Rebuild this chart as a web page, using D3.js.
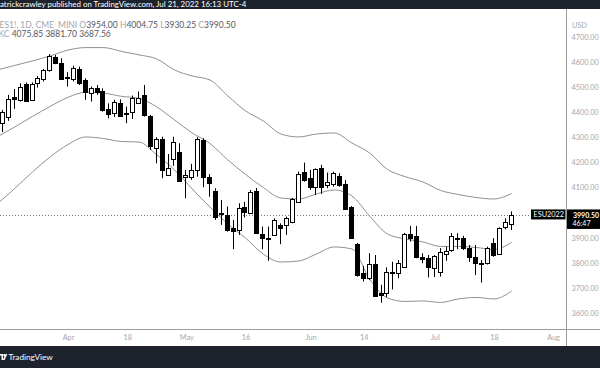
<!DOCTYPE html>
<html><head><meta charset="utf-8">
<script src="https://cdn.jsdelivr.net/npm/d3@7"></script>
<style>
html,body{margin:0;padding:0;background:#fff;}
svg{display:block;font-family:Lato,"Open Sans",sans-serif;}
</style></head><body>
<svg id="c" width="600" height="368"></svg>
<script>
// ---- data ----
const preDates = ["2022-03-16"];
const dates = [
 "2022-03-17","2022-03-18","2022-03-21","2022-03-22","2022-03-23","2022-03-24","2022-03-25","2022-03-28","2022-03-29","2022-03-30","2022-03-31",
 "2022-04-01","2022-04-04","2022-04-05","2022-04-06","2022-04-07","2022-04-08","2022-04-11","2022-04-12","2022-04-13","2022-04-14",
 "2022-04-18","2022-04-19","2022-04-20","2022-04-21","2022-04-22","2022-04-25","2022-04-26","2022-04-27","2022-04-28","2022-04-29",
 "2022-05-02","2022-05-03","2022-05-04","2022-05-05","2022-05-06","2022-05-09","2022-05-10","2022-05-11","2022-05-12","2022-05-13",
 "2022-05-16","2022-05-17","2022-05-18","2022-05-19","2022-05-20","2022-05-23","2022-05-24","2022-05-25","2022-05-26","2022-05-27","2022-05-31",
 "2022-06-01","2022-06-02","2022-06-03","2022-06-06","2022-06-07","2022-06-08","2022-06-09","2022-06-10","2022-06-13","2022-06-14",
 "2022-06-15","2022-06-16","2022-06-17","2022-06-21","2022-06-22","2022-06-23","2022-06-24","2022-06-27","2022-06-28","2022-06-29","2022-06-30",
 "2022-07-01","2022-07-05","2022-07-06","2022-07-07","2022-07-08","2022-07-11","2022-07-12","2022-07-13","2022-07-14","2022-07-15",
 "2022-07-18","2022-07-19","2022-07-20","2022-07-21"];
const futureDates = ["2022-07-22","2022-07-25","2022-07-26","2022-07-27","2022-07-28","2022-07-29","2022-08-01","2022-08-02","2022-08-03"];

const open = [4356,4382,4462,4449,4512,4449,4515,4532,4568,4621,4595,
 4540,4532,4572,4528,4475,4495,4486,4411,4396,4438,
 4396,4400,4438,4469,4385,4256,4293,4150,4214,4243,
 4143,4143,4170,4289,4143,4084,3997,3990,3940,3931,
 4024,4000,4085,3914,3900,3911,3951,3951,3964,4043,4163,
 4137,4103,4176,4110,4114,4147,4114,4024,3875,3761,
 3738,3795,3678,3678,3765,3758,3782,3915,3908,3824,3820,
 3779,3765,3835,3851,3898,3898,3860,3824,3798,3798,
 3878,3835,3944,3954];
const high = [4409,4469,4492,4515,4518,4518,4544,4572,4631,4628,4615,
 4559,4585,4581,4535,4502,4508,4495,4435,4449,4451,
 4422,4466,4482,4508,4389,4300,4302,4233,4302,4276,
 4170,4194,4300,4296,4153,4097,4050,4024,3971,4037,
 4043,4090,4098,3944,3944,3977,3957,3984,4058,4163,4199,
 4170,4176,4190,4159,4163,4157,4130,4026,3879,3787,
 3838,3831,3712,3782,3804,3811,3919,3947,3947,3838,3831,
 3831,3858,3864,3918,3918,3907,3871,3871,3811,3864,
 3898,3941,3977,4004.75];
const low = [4320,4365,4413,4442,4442,4445,4498,4522,4561,4591,4528,
 4502,4522,4508,4449,4442,4469,4402,4375,4381,4382,
 4356,4373,4435,4382,4249,4196,4137,4147,4186,4123,
 4057,4130,4143,4101,4063,3971,3951,3924,3854,3911,
 3980,3997,3918,3854,3808,3907,3874,3911,3958,4041,4123,
 4090,4070,4074,4097,4103,4103,4010,3895,3745,3725,
 3731,3665,3641,3663,3694,3738,3779,3884,3818,3798,3742,
 3743,3745,3808,3844,3854,3851,3804,3751,3721,3793,
 3824,3831,3933,3930.25];
const close = [4402,4451,4453,4502,4445,4512,4535,4568,4624,4595,4532,
 4536,4577,4515,4479,4495,4482,4409,4391,4439,4386,
 4392,4458,4455,4389,4267,4292,4170,4179,4282,4126,
 4150,4170,4293,4143,4117,3984,3994,3931,3927,4017,
 4001,4083,3920,3898,3896,3971,3940,3977,4053,4154,4130,
 4101,4173,4103,4121,4157,4110,4013,3898,3751,3738,
 3794,3668,3672,3765,3758,3798,3915,3898,3822,3815,3784,
 3827,3844,3848,3907,3894,3858,3822,3800,3794,3860,
 3831,3937,3961,3990.5];

// Keltner channel values
const bandDates = ["2022-03-16","2022-03-21","2022-03-24","2022-03-29","2022-04-01","2022-04-06","2022-04-11","2022-04-14","2022-04-20","2022-04-25",
 "2022-04-28","2022-05-03","2022-05-06","2022-05-11","2022-05-16","2022-05-19","2022-05-24","2022-05-27","2022-06-02","2022-06-07",
 "2022-06-10","2022-06-15","2022-06-21","2022-06-24","2022-06-29","2022-07-05","2022-07-08","2022-07-13","2022-07-18","2022-07-21"];
const kcUpper = [4568,4586,4604,4624,4647,4657,4657,4642,4628,4612,
 4568,4544,4528,4465,4405,4365,4313,4301,4313,4317,
 4277,4237,4172,4143,4122,4088,4072,4060,4054,4075.85];
const kcMiddle = [4301,4341,4383,4423,4459,4479,4476,4463,4455,4421,
 4369,4317,4275,4210,4152,4100,4058,4054,4074,4090,
 4066,3986,3915,3895,3883,3865,3865,3861,3853,3881.70];
const kcLower = [4034,4096,4162,4222,4271,4301,4295,4283,4281,4230,
 4170,4094,4022,3955,3899,3835,3803,3807,3835,3863,
 3855,3735,3660,3646,3648,3642,3656,3662,3656,3687.56];

const priceTicks = [3600,3700,3800,3900,4100,4200,4300,4400,4500,4600,4700];
const timeTickDates = ["2022-04-01","2022-04-18","2022-05-02","2022-05-16","2022-06-01","2022-06-14","2022-07-01","2022-07-18","2022-08-01"];
const timeTickLabels = ["Apr","18","May","16","Jun","14","Jul","18","Aug"];

// ---- layout ----
const W = 600, H = 368;
const plotR = 566, plotT = 9, plotB = 329.5;
const allDates = preDates.concat(dates, futureDates);
const pos = d => allDates.indexOf(d);

const x = d3.scaleLinear().domain([0.504, 96.19]).range([0, plotR]);
const y = d3.scaleLinear().domain([3600, 4700]).range([313, 36.8]);

const svg = d3.select("#c");
svg.append("rect").attr("width", W).attr("height", H).attr("fill", "#fff");

svg.append("defs").append("clipPath").attr("id", "plotclip")
  .append("rect").attr("x", 0).attr("y", plotT).attr("width", plotR).attr("height", plotB - plotT);

const plot = svg.append("g").attr("clip-path", "url(#plotclip)");

// last price dotted line
const last = close[close.length - 1];
plot.append("line")
  .attr("x1", 0).attr("x2", plotR)
  .attr("y1", Math.round(y(last)) + 0.5).attr("y2", Math.round(y(last)) + 0.5)
  .attr("stroke", "#7a7a7a").attr("stroke-width", 1).attr("stroke-dasharray", "1,2");

// bands
const bandData = bandDates.map((d, k) => ({p: pos(d), u: kcUpper[k], m: kcMiddle[k], l: kcLower[k]}));
["u", "m", "l"].forEach(key => {
  plot.append("path")
    .datum(bandData)
    .attr("fill", "none").attr("stroke", "#8f8f8f").attr("stroke-width", 1)
    .attr("d", d3.line().x(d => x(d.p)).y(d => y(d[key])).curve(d3.curveMonotoneX));
});

// candles
const candles = dates.map((d, k) => ({p: pos(d), o: open[k], h: high[k], l: low[k], c: close[k]}));
const cg = plot.append("g");
candles.forEach(d => {
  const cx = Math.round(x(d.p));
  cg.append("line")
    .attr("x1", cx - 0.5).attr("x2", cx - 0.5)
    .attr("y1", y(d.h)).attr("y2", y(d.l))
    .attr("stroke", "#000").attr("stroke-width", 1);
  const top = Math.round(y(Math.max(d.o, d.c))) + 0.5;
  let bot = Math.round(y(Math.min(d.o, d.c))) + 0.5;
  if (bot - top < 1) bot = top + 1;
  const up = d.c >= d.o;
  cg.append("rect")
    .attr("x", cx - 2.5).attr("width", 4)
    .attr("y", top).attr("height", bot - top)
    .attr("fill", up ? "#fff" : "#000")
    .attr("stroke", "#000").attr("stroke-width", 1);
});

// frame lines
svg.append("line").attr("x1", plotR + 0.5).attr("x2", plotR + 0.5).attr("y1", plotT).attr("y2", 346)
  .attr("stroke", "#9c9c9c");
svg.append("line").attr("x1", 0).attr("x2", W).attr("y1", plotB).attr("y2", plotB)
  .attr("stroke", "#9c9c9c");

// right price axis
const yAxis = d3.axisRight(y).tickValues(priceTicks).tickFormat(d3.format(".2f")).tickSize(0).tickPadding(5.5);
const ya = svg.append("g").attr("transform", `translate(${plotR},0)`).call(yAxis);
ya.select(".domain").remove();
ya.selectAll("text").attr("fill", "#a3a6ae").style("font-size", "7.3px").style("font-family", "Lato");
svg.append("text").attr("x", 572).attr("y", 27.5).text("USD")
  .attr("fill", "#a3a6ae").style("font-size", "7.3px");

// bottom time axis
const xAxis = d3.axisBottom(x).tickValues(timeTickDates.map(pos))
  .tickFormat((d, k) => timeTickLabels[k]).tickSize(0).tickPadding(5.5);
const xa = svg.append("g").attr("transform", `translate(0,${plotB})`).call(xAxis);
xa.select(".domain").remove();
xa.selectAll("text").attr("fill", "#a3a6ae").style("font-size", "7.3px").style("font-family", "Lato");

// last price labels
const ly = y(last);
svg.append("rect").attr("x", 567).attr("y", ly - 5.5).attr("width", 33).attr("height", 19.5).attr("fill", "#000");
svg.append("text").attr("x", 573).attr("y", ly + 2.6).text(d3.format(".2f")(last))
  .attr("fill", "#fff").style("font-size", "7px").style("font-weight", "bold");
svg.append("text").attr("x", 572.5).attr("y", ly + 11.5).text("46:47")
  .attr("fill", "#fff").style("font-size", "7px");
svg.append("rect").attr("x", 531).attr("y", ly - 5.5).attr("width", 34.5).attr("height", 10).attr("fill", "#000");
svg.append("text").attr("x", 533.5).attr("y", ly + 2.5).text("ESU2022")
  .attr("fill", "#fff").style("font-size", "7.3px");

// header
svg.append("rect").attr("x", 0).attr("y", 0).attr("width", W).attr("height", plotT).attr("fill", "#1e222d");
svg.append("text").attr("x", 0).attr("y", 6.8).text("atrickcrawley published on TradingView.com, Jul 21, 2022 16:13 UTC-4")
  .attr("fill", "#fff").style("font-size", "7.9px");

const lab = "#a3a6ae", val = "#55585f";
const t2 = svg.append("text").attr("x", -0.5).attr("y", 27.8).style("font-size", "8.5px");
[["ES1!, 1D, CME_MINI ", lab], ["O", lab], [d3.format(".2f")(open[open.length-1]) + " ", val],
 ["H", lab], [d3.format(".2f")(high[high.length-1]) + " ", val],
 ["L", lab], [d3.format(".2f")(low[low.length-1]) + " ", val],
 ["C", lab], [d3.format(".2f")(last), val]].forEach(([t, c]) => t2.append("tspan").attr("fill", c).text(t));
const t3 = svg.append("text").attr("x", -1.5).attr("y", 36.5).style("font-size", "8.5px");
[["KC ", lab], [d3.format(".2f")(kcUpper[kcUpper.length-1]) + " ", val],
 [d3.format(".2f")(kcMiddle[kcMiddle.length-1]) + " ", val],
 [d3.format(".2f")(kcLower[kcLower.length-1]), val]].forEach(([t, c]) => t3.append("tspan").attr("fill", c).text(t));

// footer
svg.append("rect").attr("x", 0).attr("y", 346).attr("width", W).attr("height", H - 346).attr("fill", "#1e222d");
const logo = svg.append("g").attr("transform", "translate(0,354)").attr("fill", "#fff");
logo.append("path").attr("d", "M-1,0 H3 V6 H1.5 V1.5 H-1 Z");
logo.append("circle").attr("cx", 4.3).attr("cy", 1.2).attr("r", 1.1);
logo.append("path").attr("d", "M5.5,0 H7.3 L4.6,6 H2.8 Z");
svg.append("text").attr("x", 8.5).attr("y", 360).text("TradingView")
  .attr("fill", "#fff").style("font-size", "8.2px");
</script>
</body></html>
